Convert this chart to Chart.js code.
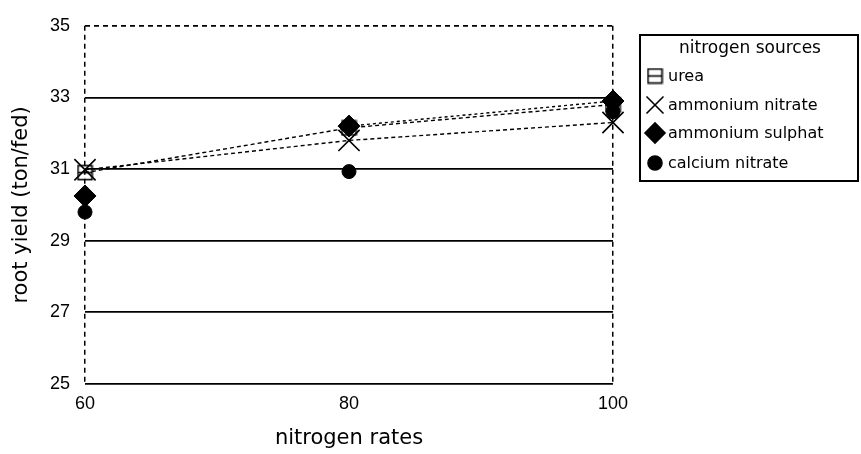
<!DOCTYPE html>
<html>
<head>
<meta charset="utf-8">
<script src="https://cdn.jsdelivr.net/npm/chart.js@4"></script>
<style>
  body { margin: 0; background: #fff; }
  #wrap { width: 861px; height: 454px; }
</style>
</head>
<body>
<div id="wrap"><canvas id="yieldChart" width="861" height="454"></canvas></div>
<script>
const rates = [60, 80, 100];
const sources = ['urea', 'ammonium nitrate', 'ammonium sulphat', 'calcium nitrate'];
const urea = [30.9, 32.15, 32.8];
const ammoniumNitrate = [30.98, 31.8, 32.3];
const ammoniumSulphat = [30.25, 32.2, 32.9];
const calciumNitrate = [29.8, 30.93, 32.6];
const yTicks = [25, 27, 29, 31, 33, 35];

const FONT = "'DejaVu Sans', sans-serif";
const TICKFONT = "'Liberation Sans', Arial, sans-serif";

// urea marker: square with a line through the middle
function squareMarker(size) {
  const c = document.createElement('canvas');
  c.width = size; c.height = size;
  const g = c.getContext('2d');
  g.strokeStyle = '#000';
  g.lineWidth = 1.6;
  g.strokeRect(1.5, 1.5, size - 3, size - 3);
  g.beginPath();
  g.moveTo(1.5, size / 2);
  g.lineTo(size - 1.5, size / 2);
  g.stroke();
  return c;
}
const ureaMark = squareMarker(17);

const toPoints = (vals) => vals.map((v, i) => ({ x: rates[i], y: v }));

const datasets = [
  { label: sources[0], data: toPoints(urea), pointStyle: ureaMark, pointRadius: 9, clip: false,
    showLine: true, borderColor: '#000', borderWidth: 1.4, borderDash: [4, 3],
    pointBackgroundColor: '#fff', pointBorderColor: '#000' },
  { label: sources[1], data: toPoints(ammoniumNitrate), pointStyle: 'crossRot', pointRadius: 15, clip: false,
    showLine: true, borderColor: '#000', borderWidth: 1.4, borderDash: [4, 3],
    pointBorderColor: '#000', pointBorderWidth: 1.6 },
  { label: sources[2], data: toPoints(ammoniumSulphat), pointStyle: 'rectRot', pointRadius: 11, clip: false,
    showLine: true, borderColor: '#000', borderWidth: 1.4, borderDash: [3, 3],
    segment: { borderColor: ctx => ctx.p0DataIndex === 0 ? 'transparent' : '#000' },
    pointBackgroundColor: '#000', pointBorderColor: '#000', pointBorderWidth: 1 },
  { label: sources[3], data: toPoints(calciumNitrate), pointStyle: 'circle', pointRadius: 7, clip: false,
    showLine: false, pointBackgroundColor: '#000', pointBorderColor: '#000', pointBorderWidth: 1 }
];

// boxed legend drawn at the right of the plot
const boxLegend = {
  id: 'boxLegend',
  afterDraw(chart) {
    const ctx = chart.ctx;
    const x0 = 640, y0 = 35, w = 218, h = 146;
    ctx.save();
    ctx.strokeStyle = '#000';
    ctx.lineWidth = 2;
    ctx.strokeRect(x0, y0, w, h);
    ctx.fillStyle = '#000';
    ctx.textBaseline = 'middle';
    ctx.textAlign = 'center';
    ctx.font = '17px ' + FONT;
    ctx.fillText('nitrogen sources', 750, 49);
    ctx.textAlign = 'left';
    ctx.font = '16px ' + FONT;
    const rowY = [76, 105, 133, 163];
    const sizes = [9, 12, 10, 7];
    chart.data.datasets.forEach((ds, i) => {
      ctx.fillStyle = ds.pointBackgroundColor || '#000';
      ctx.strokeStyle = '#000';
      ctx.lineWidth = 1.6;
      Chart.helpers.drawPoint(ctx, { pointStyle: ds.pointStyle, radius: sizes[i], rotation: 0, borderWidth: 1.6 }, 655, rowY[i]);
      ctx.fillStyle = '#000';
      ctx.fillText(ds.label, 668, rowY[i] + 1);
    });
    ctx.restore();
  }
};

new Chart(document.getElementById('yieldChart'), {
  type: 'scatter',
  data: { datasets: datasets },
  options: {
    responsive: false,
    animation: false,
    layout: { padding: { top: 17, right: 248, left: 0, bottom: 0 } },
    plugins: { legend: { display: false }, tooltip: { enabled: false } },
    scales: {
      x: {
        type: 'linear', min: 60, max: 100,
        afterFit: s => { s.height = 70; },
        afterBuildTicks: s => { s.ticks = rates.map(v => ({ value: v })); },
        border: { display: false, dash: [5, 4] },
        grid: { drawTicks: false, lineWidth: 1.5,
          color: c => (c.tick && c.tick.value === 80) ? 'rgba(0,0,0,0)' : '#000' },
        ticks: { padding: 9, color: '#000', font: { family: TICKFONT, size: 18 } },
        title: { display: true, text: 'nitrogen rates', color: '#000',
          font: { family: FONT, size: 21 }, padding: { top: 4, bottom: 3 } }
      },
      y: {
        min: 25, max: 35,
        afterFit: s => { s.width = 85; },
        afterBuildTicks: s => { s.ticks = yTicks.map(v => ({ value: v })); },
        border: { display: false, dash: c => (c.tick && c.tick.value === 35) ? [5, 4] : [] },
        grid: { drawTicks: false, lineWidth: 1.8, color: '#000' },
        ticks: { padding: 15, color: '#000', font: { family: TICKFONT, size: 18 } },
        title: { display: true, text: 'root yield (ton/fed)', color: '#000',
          font: { family: FONT, size: 21 }, padding: { top: 9, bottom: 0 } }
      }
    }
  },
  plugins: [boxLegend]
});
</script>
</body>
</html>
